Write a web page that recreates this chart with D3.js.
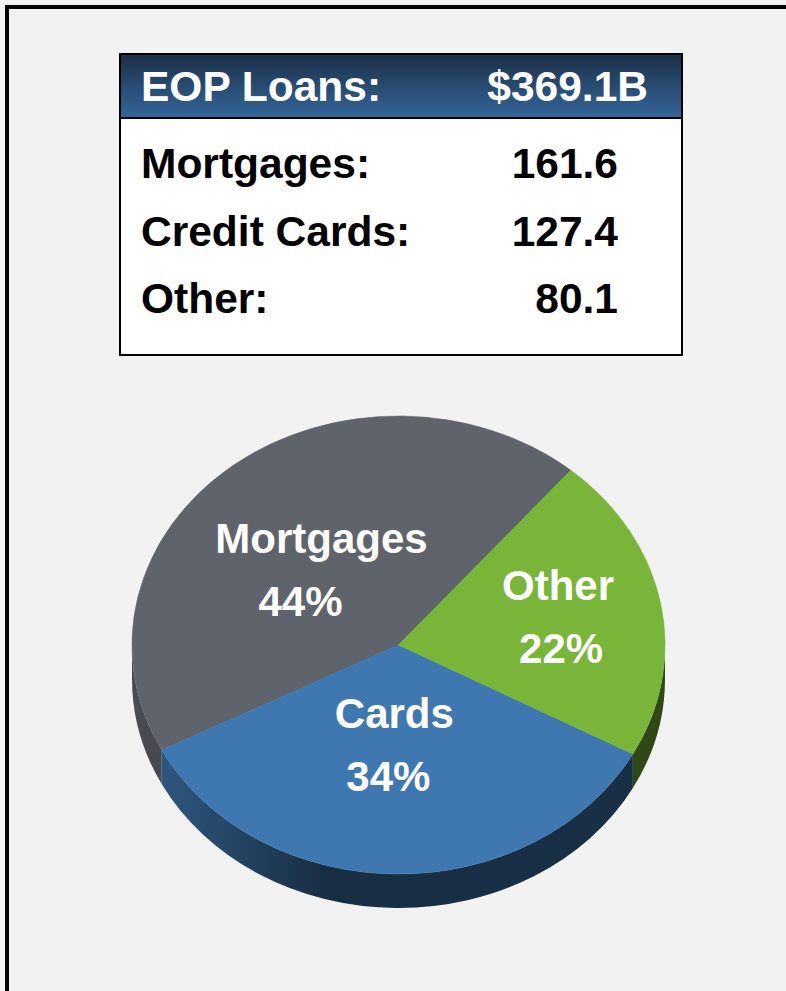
<!DOCTYPE html>
<html>
<head>
<meta charset="utf-8">
<script src="https://cdn.jsdelivr.net/npm/d3@7"></script>
<style>
  body { margin: 0; background: #f2f2f2; }
  svg { display: block; font-family: "Liberation Sans", Arial, sans-serif; font-weight: bold; }
</style>
</head>
<body>
<script>
// values
const categories = ["Mortgages", "Credit Cards", "Other"];
const pieLabels = ["Mortgages", "Cards", "Other"];
const values = [161.6, 127.4, 80.1];
const pctLabels = ["44%", "34%", "22%"];
const headerLabel = "EOP Loans:";
const totalLabel = "$369.1B";
const colors = ["#5f636b", "#3f78b0", "#78b538"];

const width = 786, height = 991;

const svg = d3.select("body").append("svg")
    .attr("width", width)
    .attr("height", height);

svg.append("rect").attr("width", width).attr("height", height).attr("fill", "#f2f2f2");
// slide frame: only the top and left edges are in view
svg.append("rect").attr("x", 5).attr("y", 5).attr("width", width - 5).attr("height", 4).attr("fill", "#000");
svg.append("rect").attr("x", 5).attr("y", 5).attr("width", 4).attr("height", height - 5).attr("fill", "#000");

const defs = svg.append("defs");

// ---------- table ----------
const box = { x: 120, y: 54, w: 562, h: 301, head: 64 };

const headGrad = defs.append("linearGradient")
    .attr("id", "headGrad").attr("x1", 0).attr("y1", 0).attr("x2", 0).attr("y2", 1);
headGrad.append("stop").attr("offset", "0%").attr("stop-color", "#1c3048");
headGrad.append("stop").attr("offset", "100%").attr("stop-color", "#34669b");

svg.append("rect")
    .attr("x", box.x).attr("y", box.y).attr("width", box.w).attr("height", box.h)
    .attr("fill", "#fff").attr("stroke", "#000").attr("stroke-width", 2);
svg.append("rect")
    .attr("x", box.x + 1).attr("y", box.y + 1).attr("width", box.w - 2).attr("height", box.head - 1)
    .attr("fill", "url(#headGrad)");
svg.append("line")
    .attr("x1", box.x).attr("x2", box.x + box.w)
    .attr("y1", box.y + box.head).attr("y2", box.y + box.head)
    .attr("stroke", "#000").attr("stroke-width", 2);

const tableFont = 42.5;

svg.append("text")
    .attr("x", 141).attr("y", 101)
    .attr("fill", "#fff").attr("font-size", tableFont)
    .text(headerLabel);
svg.append("text")
    .attr("x", 648).attr("y", 101)
    .attr("text-anchor", "end")
    .attr("fill", "#fff").attr("font-size", tableFont)
    .text(totalLabel);

const rowY = d3.scalePoint().domain(categories).range([178, 313]);
const fmt = d3.format(".1f");

const rows = svg.selectAll(".row")
    .data(categories)
    .enter().append("g")
    .attr("class", "row")
    .attr("transform", d => `translate(0,${rowY(d)})`);
rows.append("text")
    .attr("x", 141)
    .attr("font-size", tableFont)
    .attr("fill", "#000")
    .text(d => d + ":");
rows.append("text")
    .attr("x", 618)
    .attr("text-anchor", "end")
    .attr("font-size", tableFont)
    .attr("fill", "#000")
    .text((d, i) => fmt(values[i]));

// ---------- tilted pie ----------
const cx = 398.5, cy = 645, rx = 266.5, ry = 229, depth = 34;
const startDeg = 40.3;

const pie = d3.pie()
    .sort(null)
    .startAngle(startDeg * Math.PI / 180)
    .endAngle(startDeg * Math.PI / 180 - 2 * Math.PI);

const arcs = pie(values).map((d, i) => {
    const a0 = Math.min(d.startAngle, d.endAngle);
    const a1 = Math.max(d.startAngle, d.endAngle);
    return { i, a0, a1, value: d.value };
});

const pt = (a, dy = 0) => [cx + rx * Math.sin(a), cy - ry * Math.cos(a) + dy];

function topPath(d) {
    const p0 = pt(d.a0), p1 = pt(d.a1);
    const large = d.a1 - d.a0 > Math.PI ? 1 : 0;
    return `M${cx},${cy}L${p0[0]},${p0[1]}A${rx},${ry} 0 ${large} 1 ${p1[0]},${p1[1]}Z`;
}

// the front wall shows for angles between PI/2 and 3PI/2
function wallPieces(d) {
    const out = [];
    for (const k of [-2, 0, 2]) {
        const lo = Math.max(d.a0, Math.PI / 2 + k * Math.PI);
        const hi = Math.min(d.a1, 3 * Math.PI / 2 + k * Math.PI);
        if (hi > lo) out.push([lo, hi]);
    }
    return out;
}

function wallPath([b0, b1]) {
    const p0 = pt(b0), p1 = pt(b1), q1 = pt(b1, depth), q0 = pt(b0, depth);
    const large = b1 - b0 > Math.PI ? 1 : 0;
    return `M${p0[0]},${p0[1]}A${rx},${ry} 0 ${large} 1 ${p1[0]},${p1[1]}` +
        `L${q1[0]},${q1[1]}A${rx},${ry} 0 ${large} 0 ${q0[0]},${q0[1]}Z`;
}

// side shading: lit on the left, dark towards the front/right
arcs.forEach(d => {
    const g = defs.append("linearGradient")
        .attr("id", "side" + d.i)
        .attr("gradientUnits", "userSpaceOnUse")
        .attr("x1", cx - rx).attr("x2", cx + rx).attr("y1", 0).attr("y2", 0);
    g.append("stop").attr("offset", "0%").attr("stop-color", d3.color(colors[d.i]).darker(0.7));
    g.append("stop").attr("offset", "8%").attr("stop-color", d3.color(colors[d.i]).darker(1.0));
    g.append("stop").attr("offset", "36%").attr("stop-color", d3.color(colors[d.i]).darker(2.7));
    g.append("stop").attr("offset", "100%").attr("stop-color", d3.color(colors[d.i]).darker(2.6));
});

const pieG = svg.append("g");

pieG.selectAll(".wall")
    .data(arcs.flatMap(d => wallPieces(d).map(r => ({ d, r }))))
    .enter().append("path")
    .attr("class", "wall")
    .attr("d", w => wallPath(w.r))
    .attr("fill", w => `url(#side${w.d.i})`);

pieG.selectAll(".slice")
    .data(arcs)
    .enter().append("path")
    .attr("class", "slice")
    .attr("d", topPath)
    .attr("fill", d => colors[d.i])
    .attr("stroke", d => colors[d.i])
    .attr("stroke-width", 0.6);

// label anchors: fraction of the radius along each slice's middle angle, plus a nudge
const labelR = { Mortgages: 0.47, "Credit Cards": 0.441, Other: 0.613 };
const labelNudge = { Mortgages: [-10, 10], "Credit Cards": [-6, 0], Other: [0, -1] };
const lineDx = { Mortgages: [11, -10], "Credit Cards": [3, -3], Other: [-1, 2] };

const lab = pieG.selectAll(".lab")
    .data(arcs)
    .enter().append("g")
    .attr("class", "lab")
    .attr("transform", d => {
        const c = categories[d.i];
        const a = (d.a0 + d.a1) / 2, f = labelR[c], n = labelNudge[c];
        const x = cx + rx * f * Math.sin(a) + n[0];
        const y = cy - ry * f * Math.cos(a) + n[1];
        return `translate(${x},${y})`;
    });
lab.append("text")
    .attr("text-anchor", "middle")
    .attr("x", d => lineDx[categories[d.i]][0])
    .attr("y", -18)
    .attr("font-size", 42)
    .attr("fill", "#fff")
    .text(d => pieLabels[d.i]);
lab.append("text")
    .attr("text-anchor", "middle")
    .attr("x", d => lineDx[categories[d.i]][1])
    .attr("y", 45)
    .attr("font-size", 42)
    .attr("fill", "#fff")
    .text(d => pctLabels[d.i]);
</script>
</body>
</html>
